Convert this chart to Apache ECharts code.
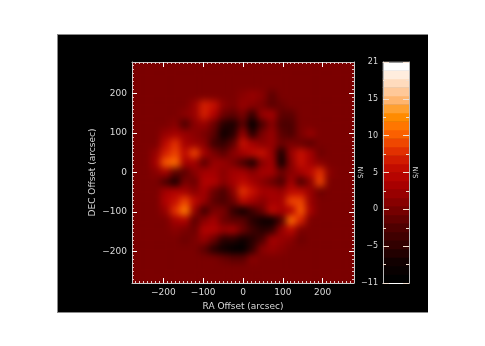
<!DOCTYPE html>
<html><head><meta charset="utf-8">
<style>
html,body{margin:0;padding:0;background:#fff;width:485px;height:346px;overflow:hidden}
#frame{position:absolute;left:57px;top:34px;width:370px;height:277px;background:#000;border-top:1px solid #8a8a8a;border-bottom:1px solid #8a8a8a;border-left:1px solid #8a8a8a}
#plate{position:absolute;left:132px;top:62px;width:222px;height:221px;overflow:hidden;background:#7a0000}
#heat{position:absolute;left:0;top:0;width:222px;height:221px;filter:blur(3.6px)}
#top{position:absolute;left:0;top:0;width:485px;height:346px}
</style>
<script src="https://cdn.jsdelivr.net/npm/echarts@6/dist/echarts.min.js"></script>
</head><body>
<div id="frame"></div>
<div id="plate"><div id="heat"></div></div>
<div id="top"></div>
<script>
const heatRows = [
[0,0,0,0,0,0,0,0,0,0,0,0,0,0,0,0,0,0,0,0,0,0,0],
[0,0,0,0,0,0,0,0,0,0,0,0,0,0,0,0,0,0,0,0,0,0,0],
[0,0,0,0,0,0,0,0,0,0,0,0,0,0,0,0,0,0,0,0,0,0,0],
[0,0,0,0,0,0,0,0,0,0,0,1,2,1,-2,0,0,0,0,0,0,0,0],
[0,0,0,0,0,0,2,7,6,1,0,2,1,0,-2,-1,0,0,0,0,0,0,0],
[0,0,0,0,0,1,2,7,4,-1,-2,0,-5,2,3,-2,-2,0,0,0,0,0,0],
[0,0,0,0,1,-3,1,2,-1,-6,-7,-2,-10,-3,1,-3,-3,0,0,0,0,0,0],
[0,0,0,2,3,2,1,0,-2,-8,-6,2,-6,0,2,-2,-3,0,2,0,0,0,0],
[0,0,0,5,8,3,2,1,-4,-5,-2,6,3,1,2,-1,0,-1,-2,0,0,0,0],
[0,0,2,7,9,5,9,3,0,-2,1,3,5,6,2,-7,2,6,3,-1,0,0,0],
[0,0,3,10,11,3,3,-2,2,2,0,-3,-7,1,3,-8,1,6,3,1,0,0,0],
[0,0,1,3,-2,-2,1,3,3,1,3,3,1,3,3,-1,1,3,5,8,1,0,0],
[0,0,0,-3,-7,0,-1,4,4,1,3,5,3,1,-1,-3,3,-3,1,9,0,0,0],
[0,0,0,3,4,3,1,3,-1,-3,1,8,6,3,3,2,5,5,2,-1,0,0,0],
[0,0,0,4,6,9,5,2,-2,-3,-1,5,3,1,3,3,9,9,2,0,0,0,0],
[0,0,0,2,8,12,2,-4,0,0,-5,-8,-4,-1,5,3,4,10,3,0,0,0,0],
[0,0,0,0,3,4,-2,1,3,-1,-2,-2,-6,-8,-9,-3,11,7,0,0,0,0,0],
[0,0,0,0,1,0,-1,4,4,2,3,-1,-4,-6,-5,2,5,0,0,0,0,0,0],
[0,0,0,0,0,-1,0,2,-1,-6,-6,-8,-6,-3,3,2,1,-1,0,0,0,0,0],
[0,0,0,0,0,0,0,-2,-6,-8,-10,-10,-5,1,2,1,0,0,0,0,0,0,0],
[0,0,0,0,0,0,0,0,0,-1,-2,-2,1,0,0,0,0,0,0,0,0,0,0],
[0,0,0,0,0,0,0,0,0,0,0,0,0,0,0,0,0,0,0,0,0,0,0],
[0,0,0,0,0,0,0,0,0,0,0,0,0,0,0,0,0,0,0,0,0,0,0]
];
const colorStops = ['#000000','#100000','#300000','#4a0000','#700000','#920000','#b00000','#c81000','#e83800','#ff6800','#ff9000','#ffb878','#ffdcc0','#ffffff'];
const barBands = [-10,-8.8,-7.6,-6.4,-5.2,-4,-2.8,-1.6,-0.4,0.8,2,3.2,4.4,5.6,6.8,8,9.2,10.4,11.6,12.8,14,15.2,16.4,17.6,18.8,20];
const xMajor = [-200,-100,0,100,200];
const yMajor = [-200,-100,0,100,200];
const minorTicks = [-270,-260,-250,-240,-230,-220,-210,-190,-180,-170,-160,-150,-140,-130,-120,-110,-90,-80,-70,-60,-50,-40,-30,-20,-10,10,20,30,40,50,60,70,80,90,110,120,130,140,150,160,170,180,190,210,220,230,240,250,260,270];
const barMajor = [-10,-5,0,5,10,15,20];
const barLabels = ['−11','−5','0','5','10','15','21'];
const barMinor = [-7.5,-2.5,2.5,7.5,12.5,17.5];
const xName = 'RA Offset (arcsec)', yName = 'DEC Offset (arcsec)', barName = 'S/N';

const font = 'DejaVu Sans', txt = '#d8d8d8', tickCol = '#ffffff', lineCol = '#c8c8c8';
const cells = [];
heatRows.forEach((row, r) => row.forEach((v, c) => cells.push([c, r, v])));
const idx = n => Array.from({length:n}, (_, i) => String(i));

const heat = echarts.init(document.getElementById('heat'), null, {renderer:'canvas'});
heat.setOption({
  animation:false,
  grid:{left:0,right:0,top:0,bottom:0},
  xAxis:{type:'category',data:idx(23),show:false},
  yAxis:{type:'category',data:idx(23),show:false,inverse:true},
  visualMap:{show:false,type:'continuous',min:-10,max:20,inRange:{color:colorStops}},
  series:[{type:'heatmap',data:cells,progressive:0}]
});

const lab = v => v < 0 ? '−' + (-v) : String(v);
const range = {min:-279,max:279};
function axisMajor(pos, gridIndex, showLabel, name, extra){
  return Object.assign({
    type:'value',gridIndex,position:pos,...range,scale:true,
    splitLine:{show:false},
    axisLine:{show:true,onZero:false,lineStyle:{color:lineCol,width:1}},
    axisTick:{show:true,inside:true,length:5,customValues:xMajor,lineStyle:{color:tickCol,width:1}},
    axisLabel:{show:showLabel,customValues:xMajor,formatter:lab,color:txt,fontFamily:font,fontSize:9,margin:5,hideOverlap:false}
  }, name?{name,nameLocation:'middle',nameTextStyle:{color:txt,fontFamily:font,fontSize:9}}:{}, extra||{});
}
function axisMinor(pos, gridIndex){
  return {type:'value',gridIndex,position:pos,...range,scale:true,
    splitLine:{show:false},axisLine:{show:false,onZero:false},
    axisTick:{show:true,inside:true,length:2,customValues:minorTicks,lineStyle:{color:'#e6c8c8',width:1}},
    axisLabel:{show:false}};
}
function barAxis(pos, labels, name){
  return {type:'value',gridIndex:1,position:pos,min:-10,max:20,
    splitLine:{show:false},
    axisLine:{show:true,onZero:false,lineStyle:{color:'#b8b8b8'}},
    axisTick:{show:true,inside:true,length:6,customValues:barMajor,lineStyle:{color:'#f4e0d0'}},
    axisLabel:{show:labels,customValues:barMajor,formatter:v=>barLabels[barMajor.indexOf(v)],color:txt,fontFamily:font,fontSize:8,margin:5},
    ...(name?{name,nameLocation:'middle',nameGap:4,nameRotate:90,nameTextStyle:{color:txt,fontFamily:font,fontSize:7}}:{})};
}
function barMinorAxis(pos){
  return {type:'value',gridIndex:1,position:pos,min:-10,max:20,
    splitLine:{show:false},axisLine:{show:false,onZero:false},
    axisTick:{show:true,inside:true,length:3,customValues:barMinor,lineStyle:{color:'#f4e0d0'}},
    axisLabel:{show:false}};
}
const chart = echarts.init(document.getElementById('top'), null, {renderer:'canvas'});
chart.setOption({
  animation:false,
  backgroundColor:'transparent',
  grid:[{left:132,top:62,width:222,height:221},{left:383,top:62,width:26,height:221}],
  xAxis:[
    axisMajor('bottom',0,true,xName,{nameGap:17}),
    axisMajor('top',0,false),
    axisMinor('bottom',0),axisMinor('top',0),
    {type:'category',gridIndex:1,data:['0'],show:false},
    {type:'value',gridIndex:1,position:'bottom',min:0,max:1,splitLine:{show:false},axisTick:{show:false},axisLabel:{show:false},axisLine:{show:true,onZero:false,lineStyle:{color:'#ffffff'}}},
    {type:'value',gridIndex:1,position:'top',min:0,max:1,splitLine:{show:false},axisTick:{show:false},axisLabel:{show:false},axisLine:{show:true,onZero:false,lineStyle:{color:'#9a9a9a'}}}
  ],
  yAxis:[
    axisMajor('left',0,true,yName,{nameGap:35}),
    axisMajor('right',0,false,barName,{nameGap:4,nameRotate:90,nameTextStyle:{color:txt,fontFamily:font,fontSize:7}}),
    axisMinor('left',0),axisMinor('right',0),
    {type:'category',gridIndex:1,data:barBands.map(String),show:false},
    barAxis('left',true),
    barAxis('right',false,barName),
    barMinorAxis('left'),barMinorAxis('right')
  ],
  visualMap:{show:false,type:'continuous',min:-10,max:20,seriesIndex:0,inRange:{color:colorStops}},
  series:[{type:'heatmap',xAxisIndex:4,yAxisIndex:4,z:0,progressive:0,
    data:barBands.map((v,i)=>[0,i,v])}]
});
</script>
</body></html>
